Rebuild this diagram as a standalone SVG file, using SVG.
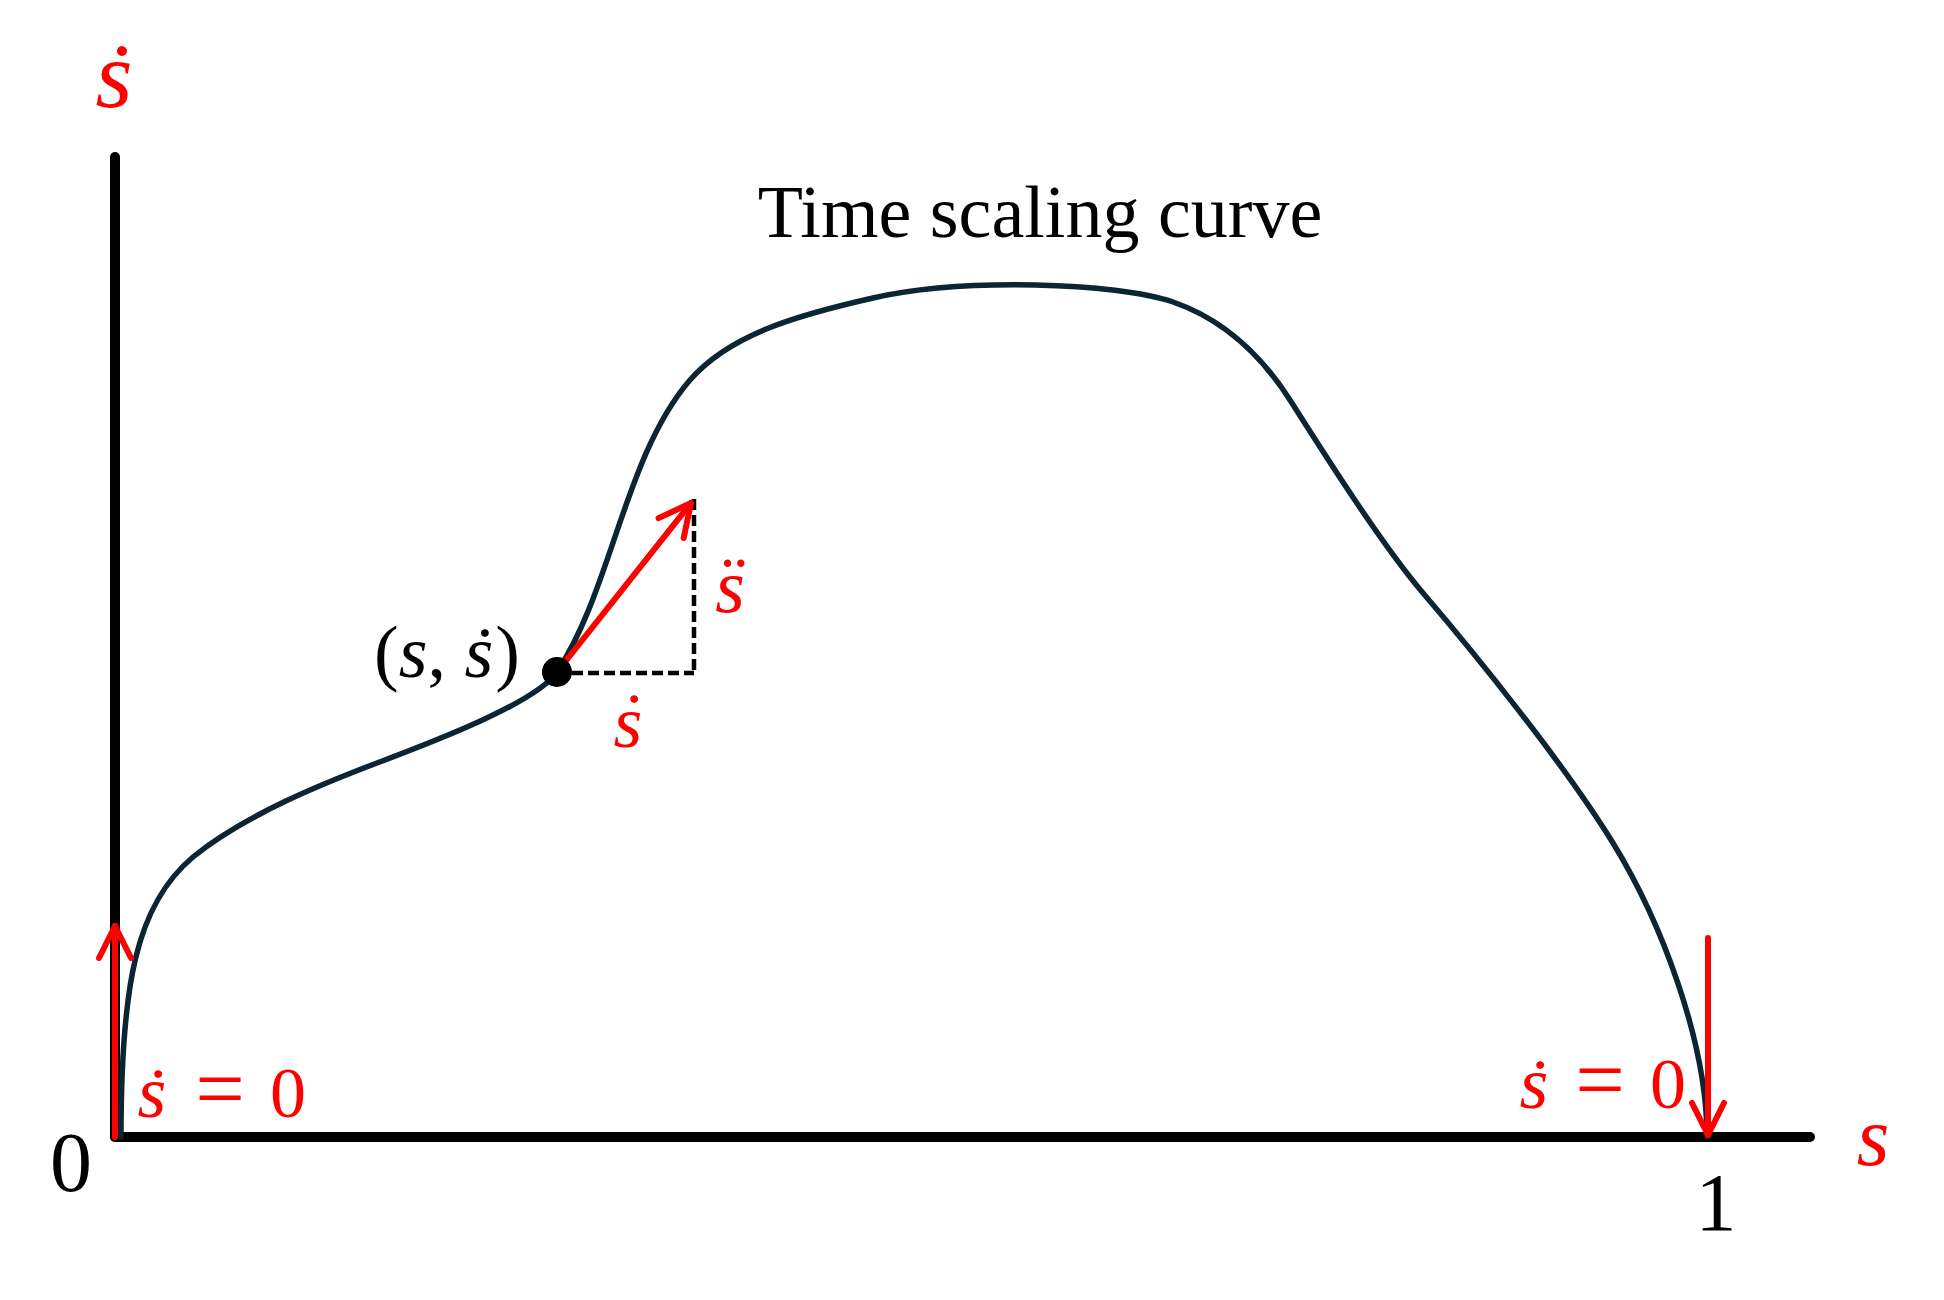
<svg xmlns="http://www.w3.org/2000/svg" width="1944" height="1300" viewBox="0 0 1944 1300">
<style>
.serif{font-family:"Liberation Serif","Times New Roman",serif;}
.it{font-style:italic;}
.up{font-style:normal;}
.red{fill:#ff0000;}
.blk{fill:#000000;}
.axis{stroke:#000;stroke-width:10;stroke-linecap:round;fill:none;}
.curve{stroke:#0b2533;stroke-width:5.5;fill:none;stroke-linecap:round;stroke-linejoin:round;}
.rarrow{stroke:#ff0000;stroke-width:6;fill:none;stroke-linecap:round;marker-end:url(#ah);}
.dash{stroke:#000;stroke-width:4.5;fill:none;stroke-dasharray:11 5;}
</style>
<defs>
<marker id="ah" markerUnits="userSpaceOnUse" markerWidth="80" markerHeight="80" viewBox="-40 -40 80 80" refX="0" refY="0" orient="auto" overflow="visible">
<path d="M-32,-16 L0,0 L-32,16" fill="none" stroke="#ff0000" stroke-width="6" stroke-linecap="round" stroke-linejoin="round"/>
</marker>
</defs>
<rect width="1944" height="1300" fill="#ffffff"/>

<g id="axes">
<line class="axis" x1="115" y1="157" x2="115" y2="1137"/>
<line class="axis" x1="115" y1="1137" x2="1810" y2="1137"/>
</g>

<g id="time-scaling-curve">
<path class="curve" d="M121,1137 C121,985 136,905 193,857 C246.6,813.6 327,782 377,763 C437,740.4 537,702 557,672 C612,589 624.6,455.7 690,380 C729,335 795,315.6 873,298 C963,277.7 1116.3,282.4 1173,302 C1220.3,318.3 1258,350 1290,400 C1330,463 1383,546 1423,593 C1473,651.5 1563,762 1613,843 C1660,919.6 1707,1040 1707,1137"/>
</g>

<g id="connectors">
<line class="rarrow" x1="115" y1="1137" x2="115" y2="926"/>
<line class="rarrow" x1="1708" y1="938" x2="1708" y2="1135"/>
<line class="dash" x1="572" y1="673" x2="694" y2="673"/>
<line class="dash" x1="694" y1="499" x2="694" y2="673"/>
<line class="rarrow" x1="557" y1="672" x2="691" y2="503"/>
</g>

<g id="point">
<circle cx="557" cy="672" r="15" fill="#000"/>
</g>

<g id="label-title">
<text class="serif blk" x="1040" y="237" font-size="74" text-anchor="middle">Time scaling curve</text>
</g>

<g id="label-sdot-axis">
<text class="serif red" x="95.5" y="107" font-size="95"><tspan class="it">s</tspan><tspan class="up" dx="-26.6" dy="2">˙</tspan></text>
</g>

<g id="label-s-axis">
<text class="serif it red" x="1873" y="1165" font-size="84" text-anchor="middle">s</text>
</g>

<g id="label-zero">
<text class="serif blk" x="71" y="1191" font-size="84" text-anchor="middle">0</text>
</g>
<g id="label-one">
<text class="serif blk" x="1716" y="1230" font-size="82" text-anchor="middle">1</text>
</g>

<g id="label-start">
<text class="serif red" x="137.6" y="1117" font-size="74"><tspan class="it">s</tspan><tspan class="up" dx="-20.7" dy="2">˙</tspan></text>
<text class="serif red" x="220" y="1118" font-size="88" text-anchor="middle">=</text>
<text class="serif red" x="288" y="1117" font-size="72" text-anchor="middle">0</text>
</g>

<g id="label-end">
<text class="serif red" x="1519.6" y="1108" font-size="74"><tspan class="it">s</tspan><tspan class="up" dx="-20.7" dy="2">˙</tspan></text>
<text class="serif red" x="1600" y="1109" font-size="88" text-anchor="middle">=</text>
<text class="serif red" x="1668" y="1108" font-size="72" text-anchor="middle">0</text>
</g>

<g id="label-point">
<text class="serif blk" x="374" y="677" font-size="74">(<tspan class="it">s</tspan>, <tspan class="it">s</tspan><tspan dx="-20.7" dy="1">˙</tspan><tspan dx="-2" dy="-1">)</tspan></text>
</g>

<g id="label-sddot">
<text class="serif red" x="715.2" y="612" font-size="76"><tspan class="it">s</tspan><tspan class="up" dx="-23.4" dy="-4">¨</tspan></text>
</g>

<g id="label-sdot-small">
<text class="serif red" x="613.6" y="747" font-size="74"><tspan class="it">s</tspan><tspan class="up" dx="-20.7" dy="-3">˙</tspan></text>
</g>
</svg>
